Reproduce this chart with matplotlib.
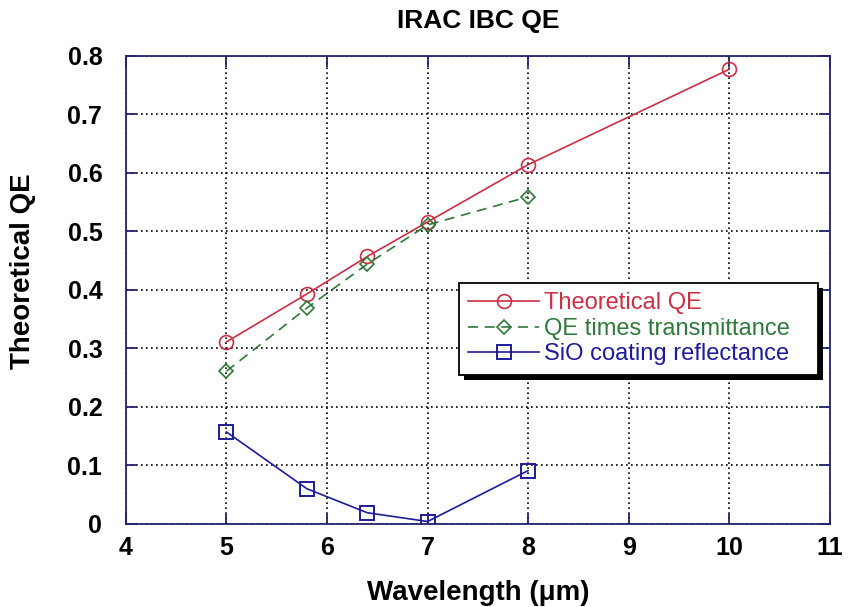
import matplotlib
matplotlib.use("Agg")
import matplotlib.pyplot as plt
from matplotlib.patches import Rectangle
from matplotlib.transforms import IdentityTransform

plt.rcParams['font.family'] = ['Liberation Sans', 'DejaVu Sans']

# wavelengths (um) and values
wl_qe = [5, 5.8, 6.4, 7, 8, 10]
qe = [0.311, 0.393, 0.457, 0.516, 0.614, 0.777]

wl_tr = [5, 5.8, 6.4, 7, 8]
qe_trans = [0.261, 0.369, 0.444, 0.511, 0.559]

wl_refl = [5, 5.8, 6.4, 7, 8]
sio_refl = [0.157, 0.060, 0.019, 0.004, 0.091]

red = '#cc2f45'
green = '#2f7a3a'
blue = '#1c1c9a'
navy = '#23236e'

fig = plt.figure(figsize=(8.51, 6.07), dpi=100)
ax = fig.add_axes([0.148, 0.137, 0.827, 0.771])

ax.plot(wl_qe, qe, color=red, lw=1.2, marker='o', ms=10, mfc='none',
        mec=red, mew=1.2, label='Theoretical QE')
ax.plot(wl_tr, qe_trans, color=green, lw=1.2, ls=(0, (6, 4)), marker='D', ms=7,
        mfc='none', mec=green, mew=1.2, label='QE times transmittance')
ax.plot(wl_refl, sio_refl, color=blue, lw=1.2, marker='s', ms=10, mfc='none',
        mec=blue, mew=1.4, label='SiO coating reflectance')

ax.set_xlim(4, 11)
ax.set_ylim(0, 0.8)
ax.set_xticks(range(4, 12))
ax.set_yticks([0, 0.1, 0.2, 0.3, 0.4, 0.5, 0.6, 0.7, 0.8])
ax.set_yticklabels(['0', '0.1', '0.2', '0.3', '0.4', '0.5', '0.6', '0.7', '0.8'])

ax.grid(True, color='black', ls=(0, (1, 2)), lw=1.2)
for s in ax.spines.values():
    s.set_color(navy)
    s.set_linewidth(1.3)
ax.tick_params(direction='in', length=8, width=1.3, color=navy, top=True, right=True,
               labelsize=18)
ax.tick_params(axis='x', pad=9)
ax.tick_params(axis='y', pad=17)
for lab in ax.get_xticklabels() + ax.get_yticklabels():
    lab.set_fontweight('bold')

ax.set_title('IRAC IBC QE', fontsize=19, fontweight='bold', pad=20)
ax.set_xlabel('Wavelength (\u03bcm)', fontsize=20, fontweight='bold', labelpad=14)
ax.set_ylabel('Theoretical QE', fontsize=20, fontweight='bold')
ax.yaxis.set_label_coords(-0.128, 0.54)

leg = ax.legend(loc='upper left', bbox_to_anchor=(0.473, 0.318, 0.51, 0.197),
                mode='expand', borderaxespad=0,
                fontsize=17, labelcolor='linecolor', handlelength=3.0,
                handletextpad=0.2, labelspacing=0.15, borderpad=0.4,
                fancybox=False, framealpha=1, edgecolor='black')
leg.get_frame().set_linewidth(1.3)

# black drop shadow behind the legend box
fig.canvas.draw()
bb = leg.get_window_extent()
shadow = Rectangle((bb.x0 + 5, bb.y0 - 5), bb.width, bb.height,
                   transform=IdentityTransform(), facecolor='black',
                   edgecolor='none', zorder=4.9)
ax.add_artist(shadow)

fig.savefig('out.png', dpi=100)
